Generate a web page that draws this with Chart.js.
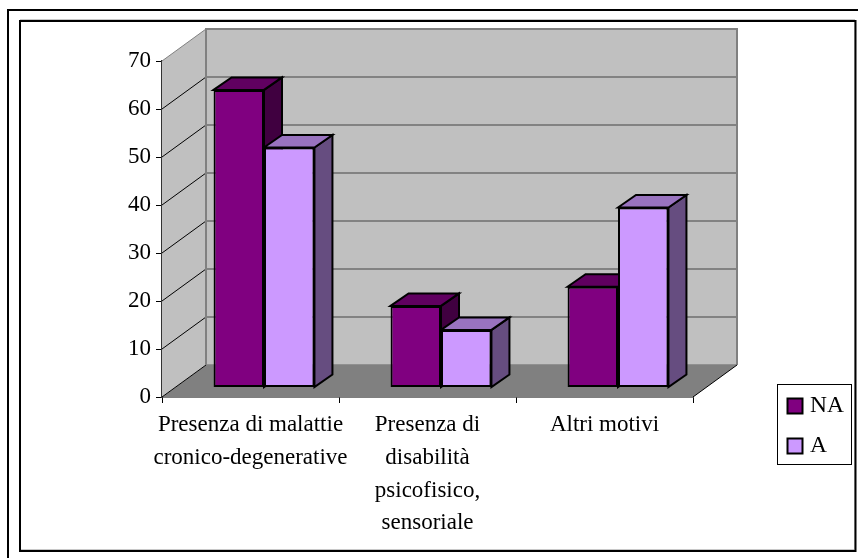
<!DOCTYPE html>
<html>
<head>
<meta charset="utf-8">
<script src="https://cdn.jsdelivr.net/npm/chart.js@4"></script>
<style>
  html, body { margin: 0; padding: 0; background: #fff; }
  #wrap { position: relative; width: 858px; height: 558px; }
</style>
</head>
<body>
<div id="wrap"><canvas id="grafico" width="858" height="558"></canvas></div>
<script>
const categorie = [
  ['Presenza di malattie', 'cronico-degenerative'],
  ['Presenza di', 'disabilità', 'psicofisico,', 'sensoriale'],
  'Altri motivi'
];
const valoriNA = [62, 17, 21];
const valoriA = [50, 12, 37.5];
const etichetteSerie = ['NA', 'A'];
const coloriFronte = ['#800080', '#cc99ff'];
const coloriSopra = ['#600060', '#9973bf'];
const coloriLato = ['#400040', '#664d80'];

const font = 'Liberation Serif';

// sfondo 3D: pareti, pavimento e griglia
const DX = 44, DY = -32;      // profondità del grafico
const BX = 13.5, BY = -9.5;   // spostamento delle barre
const PX = 18, PY = -12.5;    // profondità delle barre

function poligono(ctx, punti, fill, stroke, lw) {
  ctx.beginPath();
  punti.forEach((p, i) => i ? ctx.lineTo(p[0], p[1]) : ctx.moveTo(p[0], p[1]));
  ctx.closePath();
  ctx.fillStyle = fill;
  ctx.fill();
  if (stroke) {
    ctx.strokeStyle = stroke;
    ctx.lineWidth = lw;
    ctx.stroke();
  }
}

const grafico3d = {
  id: 'grafico3d',
  beforeDatasetsDraw(chart) {
    const ctx = chart.ctx;
    const { left, right, top, bottom } = chart.chartArea;
    const y = chart.scales.y;
    ctx.save();
    // pavimento
    poligono(ctx, [[left, bottom], [right, bottom], [right + DX, bottom + DY], [left + DX, bottom + DY]], '#808080');
    // parete laterale
    poligono(ctx, [[left, bottom], [left, top], [left + DX, top + DY], [left + DX, bottom + DY]], '#c0c0c0');
    // parete di fondo
    poligono(ctx, [[left + DX, top + DY], [right + DX, top + DY], [right + DX, bottom + DY], [left + DX, bottom + DY]], '#c0c0c0');
    // griglia
    y.ticks.forEach((t) => {
      const py = y.getPixelForValue(t.value);
      ctx.beginPath();
      ctx.moveTo(left + DX, py + DY);
      ctx.lineTo(right + DX, py + DY);
      ctx.strokeStyle = t.value === 0 ? '#808080' : '#6e6e6e';
      ctx.lineWidth = 1.5;
      ctx.stroke();
      ctx.beginPath();
      ctx.moveTo(left, py);
      ctx.lineTo(left + DX, py + DY);
      ctx.strokeStyle = t.value === 70 ? '#808080' : '#000';
      ctx.lineWidth = 1;
      ctx.stroke();
    });
    // bordi delle pareti
    ctx.strokeStyle = '#808080';
    ctx.lineWidth = 2;
    ctx.beginPath();
    ctx.moveTo(left + DX, bottom + DY);
    ctx.lineTo(left + DX, top + DY);
    ctx.lineTo(right + DX, top + DY);
    ctx.lineTo(right + DX, bottom + DY);
    ctx.stroke();
    // bordo destro del pavimento
    ctx.strokeStyle = '#000';
    ctx.lineWidth = 1;
    ctx.beginPath();
    ctx.moveTo(right, bottom);
    ctx.lineTo(right + DX, bottom + DY);
    ctx.stroke();

    // facce superiori e laterali delle barre (prima NA, poi A)
    chart.data.datasets.forEach((ds, i) => {
      chart.getDatasetMeta(i).data.forEach((bar) => {
        const x0 = bar.x - bar.width / 2 + BX;
        const x1 = bar.x + bar.width / 2 + BX;
        const yt = bar.y + BY;
        const yb = bar.base + BY;
        poligono(ctx, [[x1, yt], [x1 + PX, yt + PY], [x1 + PX, yb + PY], [x1, yb]], coloriLato[i], '#000', 2);
        poligono(ctx, [[x0, yt], [x0 + PX, yt + PY], [x1 + PX, yt + PY], [x1, yt]], coloriSopra[i], '#000', 2);
      });
    });
    ctx.restore();
  },
  // le facce frontali restano disegnate da Chart.js, solo spostate in profondità
  beforeDatasetDraw(chart) {
    chart.ctx.save();
    chart.ctx.translate(BX, BY);
  },
  afterDatasetDraw(chart) {
    chart.ctx.restore();
  },
  afterDraw(chart) {
    const ctx = chart.ctx;
    ctx.save();
    // cornici esterne
    ctx.strokeStyle = '#000';
    ctx.lineWidth = 2;
    ctx.beginPath();
    ctx.moveTo(8, 558);
    ctx.lineTo(8, 10);
    ctx.lineTo(858, 10);
    ctx.stroke();
    ctx.strokeStyle = '#c8c8c8';
    ctx.lineWidth = 1;
    ctx.strokeRect(20.5, 19.5, 834, 530);
    ctx.strokeStyle = '#000';
    ctx.lineWidth = 2;
    ctx.strokeRect(20, 21, 835.5, 530);
    // legenda
    ctx.fillStyle = '#fff';
    ctx.strokeStyle = '#000';
    ctx.lineWidth = 1;
    ctx.fillRect(777.5, 384.5, 74, 80);
    ctx.strokeRect(777.5, 384.5, 74, 80);
    ctx.font = '23.5px "' + font + '"';
    ctx.textBaseline = 'alphabetic';
    etichetteSerie.forEach((nome, i) => {
      const y0 = 398.5 + i * 40;
      ctx.fillStyle = coloriFronte[i];
      ctx.fillRect(787.5, y0, 15, 15);
      ctx.lineWidth = 2;
      ctx.strokeRect(787.5, y0, 15, 15);
      ctx.fillStyle = '#000';
      ctx.fillText(nome, 810, 412 + i * 40);
    });
    ctx.restore();
  }
};

new Chart(document.getElementById('grafico').getContext('2d'), {
  type: 'bar',
  data: {
    labels: categorie,
    datasets: [
      { label: etichetteSerie[0], data: valoriNA, backgroundColor: coloriFronte[0], borderColor: '#000', borderWidth: 2, borderSkipped: false },
      { label: etichetteSerie[1], data: valoriA, backgroundColor: coloriFronte[1], borderColor: '#000', borderWidth: 2, borderSkipped: false }
    ]
  },
  options: {
    responsive: false,
    animation: false,
    layout: { padding: { left: 0, top: 61, right: 165, bottom: 0 } },
    datasets: { bar: { barPercentage: 1, categoryPercentage: 0.57 } },
    plugins: { legend: { display: false }, tooltip: { enabled: false } },
    scales: {
      x: {
        afterFit: (s) => { s.height = 161; },
        grid: { drawOnChartArea: false, tickLength: 6, color: '#000', offset: true },
        border: { color: '#000', width: 1.5 },
        ticks: {
          color: '#000',
          maxRotation: 0,
          autoSkip: false,
          padding: 6,
          font: { family: font, size: 23, lineHeight: 1.42 }
        }
      },
      y: {
        min: 0,
        max: 70,
        afterFit: (s) => { s.width = 162; },
        grid: { drawOnChartArea: false, tickLength: 6, color: '#000' },
        border: { color: '#333', width: 1.5 },
        ticks: {
          stepSize: 10,
          color: '#000',
          padding: 5,
          font: { family: font, size: 23 }
        }
      }
    }
  },
  plugins: [grafico3d]
});
</script>
</body>
</html>
